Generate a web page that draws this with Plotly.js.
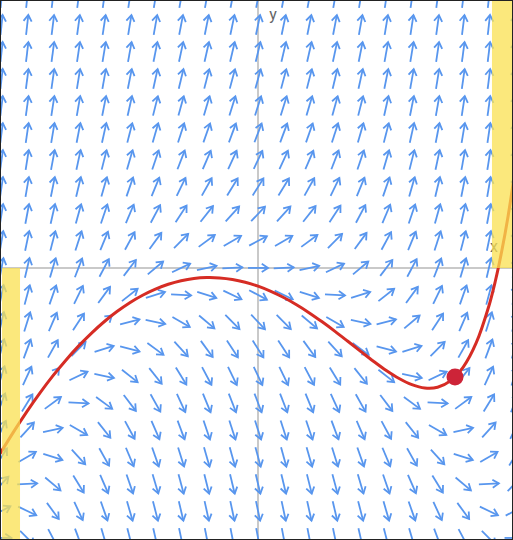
<!DOCTYPE html>
<html>
<head>
<meta charset="utf-8">
<script src="https://cdn.plot.ly/plotly-3.0.1.min.js"></script>
<style>html,body{margin:0;padding:0;background:#fff;overflow:hidden}</style>
</head>
<body>
<div id="chart" style="width:513px;height:540px"></div>
<script>
// ---- data ----
// slope-field grid (arrow centres)
const xGrid = [-5, -4.5, -4, -3.5, -3, -2.5, -2, -1.5, -1, -0.5, 0, 0.5, 1, 1.5, 2, 2.5, 3, 3.5, 4, 4.5, 5];
const yGrid = [-25, -22.5, -20, -17.5, -15, -12.5, -10, -7.5, -5, -2.5, 0, 2.5, 5, 7.5, 10, 12.5, 15, 17.5, 20, 22.5, 25];
// differential equation shown by the field: dy/dx = y + x^2 (nullcline y = -x^2)
const fieldEquation = (x, y) => y + x * x;

// red solution curve
const curveX = [-5.03, -4.75, -4.5, -4.25, -4, -3.75, -3.5, -3.25, -3, -2.75, -2.5, -2.25, -2, -1.75, -1.5, -1.25, -1, -0.75, -0.5, -0.25, 0, 0.25, 0.5, 0.75, 1, 1.25, 1.5, 1.75, 2, 2.25, 2.5, 2.75, 3, 3.25, 3.5, 3.75, 4, 4.25, 4.5, 4.625, 4.75, 4.875, 5];
const curveY = [-17.2, -15.06, -13.25, -11.56, -9.99, -8.56, -7.24, -6.05, -4.98, -4.04, -3.22, -2.53, -1.96, -1.51, -1.18, -0.97, -0.89, -0.92, -1.06, -1.32, -1.69, -2.17, -2.74, -3.41, -4.16, -4.99, -5.87, -6.79, -7.72, -8.64, -9.50, -10.24, -10.81, -11.12, -11.05, -10.46, -9.18, -6.97, -3.52, -1.23, 1.54, 4.82, 8.71];

// initial point
const pointX = [3.84];
const pointY = [-10.1];

// highlighted bands [x0, x1, y0, y1]
const bandLeft = [-4.99, -4.64, -25.19, 0];
const bandRight = [4.56, 5.2, 0, 24.81];

// ---- layout constants ----
const W = 513, H = 540;
const xRange = [-5.03, 4.97];
const yRange = [-25.19, 24.81];
const SX = W / (xRange[1] - xRange[0]);   // px per x unit
const SY = H / (yRange[1] - yRange[0]);   // px per y unit

// build arrows (shaft + open chevron) in data coordinates
const L = 20, headLen = 7.5, headAng = 33 * Math.PI / 180;
const ax = [], ay = [];
for (const y of yGrid) {
  for (const x of xGrid) {
    const m = fieldEquation(x, y);
    const p = m * SY / SX;              // slope in pixel space
    const n = Math.sqrt(1 + p * p);
    const ux = 1 / n, uy = p / n;       // unit dir in px (y up)
    const tx = x - (L / 2) * ux / SX, ty = y - (L / 2) * uy / SY;
    const hx = x + (L / 2) * ux / SX, hy = y + (L / 2) * uy / SY;
    ax.push(tx, hx, null); ay.push(ty, hy, null);
    // chevron
    const bx = -ux, by = -uy;
    const c = Math.cos(headAng), s = Math.sin(headAng);
    const r1x = bx * c - by * s, r1y = bx * s + by * c;
    const r2x = bx * c + by * s, r2y = -bx * s + by * c;
    ax.push(hx + headLen * r1x / SX, hx, hx + headLen * r2x / SX, null);
    ay.push(hy + headLen * r1y / SY, hy, hy + headLen * r2y / SY, null);
  }
}

const traces = [
  {
    x: ax, y: ay, type: 'scatter', mode: 'lines',
    line: {color: 'rgb(88,150,238)', width: 1.8},
    hoverinfo: 'skip', connectgaps: false
  },
  {
    x: [0.29, 4.6], y: [23.3, 1.85], type: 'scatter', mode: 'text',
    text: ['y', 'x'], textfont: {family: 'Roboto, Arial, sans-serif', size: 16, color: '#666'},
    hoverinfo: 'skip'
  },
  {
    x: curveX, y: curveY, type: 'scatter', mode: 'lines',
    line: {color: 'rgb(214,44,36)', width: 3, shape: 'spline', smoothing: 1},
    hoverinfo: 'skip'
  },
  {
    x: pointX, y: pointY, type: 'scatter', mode: 'markers',
    marker: {size: 17, color: 'rgb(205,36,56)'},
    hoverinfo: 'skip'
  }
];

const axisCommon = {
  showgrid: false, zeroline: true, zerolinecolor: '#c9c9c9', zerolinewidth: 2,
  showticklabels: false, ticks: '', showline: false, fixedrange: true
};

const layout = {
  width: W, height: H,
  margin: {l: 0, r: 0, t: 0, b: 0},
  paper_bgcolor: '#fff', plot_bgcolor: '#fff',
  showlegend: false,
  xaxis: Object.assign({range: xRange}, axisCommon),
  yaxis: Object.assign({range: yRange}, axisCommon),
  shapes: [
    {type: 'rect', xref: 'x', yref: 'y', x0: bandLeft[0], x1: bandLeft[1], y0: bandLeft[2], y1: bandLeft[3],
     fillcolor: 'rgba(250,224,80,0.75)', line: {width: 0}, layer: 'above'},
    {type: 'rect', xref: 'x', yref: 'y', x0: bandRight[0], x1: bandRight[1], y0: bandRight[2], y1: bandRight[3],
     fillcolor: 'rgba(250,224,80,0.75)', line: {width: 0}, layer: 'above'},
    {type: 'rect', xref: 'paper', yref: 'paper', x0: 0, x1: 1, y0: 0, y1: 1,
     line: {color: '#222', width: 2}, fillcolor: 'rgba(0,0,0,0)', layer: 'above'}
  ]
};

Plotly.newPlot('chart', traces, layout, {displayModeBar: false, staticPlot: true});
</script>
</body>
</html>
